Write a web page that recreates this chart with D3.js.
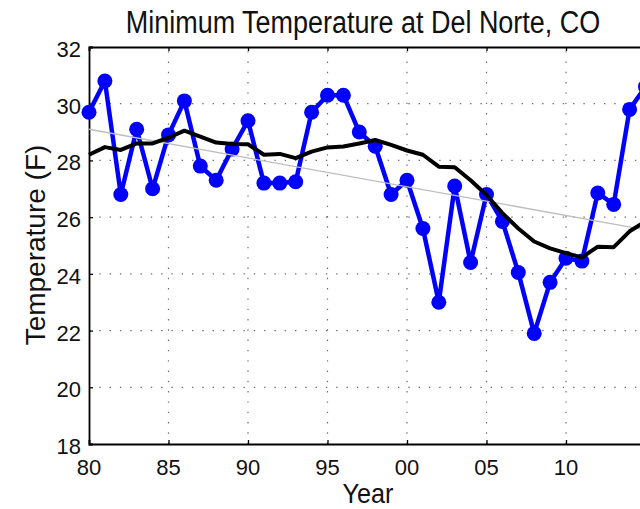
<!DOCTYPE html>
<html>
<head>
<meta charset="utf-8">
<script src="https://cdn.jsdelivr.net/npm/d3@7"></script>
<style>
  html, body { margin: 0; padding: 0; background: #fff; overflow: hidden; }
  svg { display: block; font-family: "Liberation Sans", Arial, Helvetica, sans-serif; }
</style>
</head>
<body>
<svg id="chart" width="640" height="509"></svg>
<script>
// Annual minimum temperature, Del Norte CO
const years = [1980, 1981, 1982, 1983, 1984, 1985, 1986, 1987, 1988, 1989,
               1990, 1991, 1992, 1993, 1994, 1995, 1996, 1997, 1998, 1999,
               2000, 2001, 2002, 2003, 2004, 2005, 2006, 2007, 2008, 2009,
               2010, 2011, 2012, 2013, 2014, 2015];
const minTemp = [29.7, 30.8, 26.8, 29.1, 27.0, 28.9, 30.1, 27.8, 27.3, 28.4,
                 29.4, 27.2, 27.2, 27.25, 29.7, 30.3, 30.3, 29.0, 28.5, 26.8,
                 27.3, 25.6, 23.0, 27.1, 24.4, 26.8, 25.85, 24.05, 21.9, 23.7,
                 24.55, 24.45, 26.85, 26.45, 29.8, 30.6];
// smoothed (running mean) curve
const smoothTemp = [28.2, 28.47, 28.37, 28.6, 28.6, 28.8, 29.05, 28.84, 28.63, 28.58,
                    28.57, 28.2, 28.23, 28.08, 28.31, 28.46, 28.49, 28.6, 28.72, 28.55,
                    28.35, 28.2, 27.78, 27.76, 27.3, 26.78, 26.14, 25.6, 25.14, 24.9,
                    24.73, 24.58, 24.96, 24.94, 25.5, 25.85];
// linear trend end points
const trendYears = [1980, 2015];
const trendTemp = [29.1, 25.55];

const xTicks = [1980, 1985, 1990, 1995, 2000, 2005, 2010];
const xTickLabels = ["80", "85", "90", "95", "00", "05", "10"];
const yTicks = [18, 20, 22, 24, 26, 28, 30, 32];

const titleText = "Minimum Temperature at Del Norte, CO";
const xLabel = "Year";
const yLabel = "Temperature (F)";

const svg = d3.select("#chart");
const plotLeft = 89, plotRight = 645.5, plotTop = 47, plotBottom = 444;

const x = d3.scaleLinear().domain([1980, 2015]).range([plotLeft, plotRight]);
const y = d3.scaleLinear().domain([18, 32]).range([plotBottom, plotTop]);

// dotted grid
const grid = svg.append("g")
  .attr("stroke", "#707070")
  .attr("stroke-width", 1.2)
  .attr("stroke-dasharray", "1.4,8.9");
grid.selectAll(".gx").data(xTicks.slice(1)).join("line")
  .attr("x1", d => x(d)).attr("x2", d => x(d))
  .attr("y1", plotBottom).attr("y2", plotTop);
grid.selectAll(".gy").data(yTicks.slice(1, -1)).join("line")
  .attr("x1", plotLeft).attr("x2", plotRight)
  .attr("y1", d => y(d)).attr("y2", d => y(d));

// axes with inward ticks
const axisBottom = d3.axisBottom(x).tickValues(xTicks).tickSize(-4).tickFormat("");
const axisTop = d3.axisTop(x).tickValues(xTicks).tickSize(-4).tickFormat("");
const axisLeft = d3.axisLeft(y).tickValues(yTicks).tickSize(-4).tickFormat("");

function styleAxis(g) {
  g.select(".domain").attr("stroke", "#000").attr("stroke-width", 1.8);
  g.selectAll(".tick line").attr("stroke", "#000").attr("stroke-width", 1.3);
}
svg.append("g").attr("transform", `translate(0,${plotBottom})`).call(axisBottom).call(styleAxis);
svg.append("g").attr("transform", `translate(0,${plotTop})`).call(axisTop).call(styleAxis);
svg.append("g").attr("transform", `translate(${plotLeft},0)`).call(axisLeft).call(styleAxis);

// tick labels
svg.append("g").selectAll("text").data(xTicks).join("text")
  .attr("x", (d) => x(d)).attr("y", 475)
  .attr("text-anchor", "middle")
  .attr("font-size", 22)
  .attr("fill", "#111")
  .text((d, i) => xTickLabels[i]);
svg.append("g").selectAll("text").data(yTicks).join("text")
  .attr("x", 81).attr("y", d => y(d) + 10)
  .attr("text-anchor", "end")
  .attr("font-size", 22)
  .attr("fill", "#111")
  .text(d => d);

// observed series
const line = d3.line().x((d, i) => x(years[i])).y(d => y(d));
svg.append("path").datum(minTemp)
  .attr("d", line)
  .attr("fill", "none").attr("stroke", "#0000ff")
  .attr("stroke-width", 4.5).attr("stroke-linejoin", "round");
svg.append("g").selectAll("circle").data(minTemp).join("circle")
  .attr("cx", (d, i) => x(years[i])).attr("cy", d => y(d))
  .attr("r", 7.5).attr("fill", "#0000ff");

// linear trend
svg.append("path").datum(trendTemp)
  .attr("d", d3.line().x((d, i) => x(trendYears[i])).y(d => y(d)))
  .attr("fill", "none").attr("stroke", "#bdbdbd").attr("stroke-width", 1.3);

// smoothed curve
svg.append("path").datum(smoothTemp)
  .attr("d", line)
  .attr("fill", "none").attr("stroke", "#000")
  .attr("stroke-width", 4).attr("stroke-linejoin", "round");

// titles
svg.append("text")
  .attr("transform", "translate(363,33) scale(0.87,1)")
  .attr("text-anchor", "middle").attr("font-size", 31).attr("fill", "#111")
  .text(titleText);
svg.append("text")
  .attr("transform", "translate(368,503) scale(0.9,1)")
  .attr("text-anchor", "middle").attr("font-size", 28).attr("fill", "#111")
  .text(xLabel);
svg.append("text")
  .attr("transform", "translate(45,245) rotate(-90)")
  .attr("text-anchor", "middle").attr("font-size", 28).attr("fill", "#111")
  .text(yLabel);
</script>
</body>
</html>
